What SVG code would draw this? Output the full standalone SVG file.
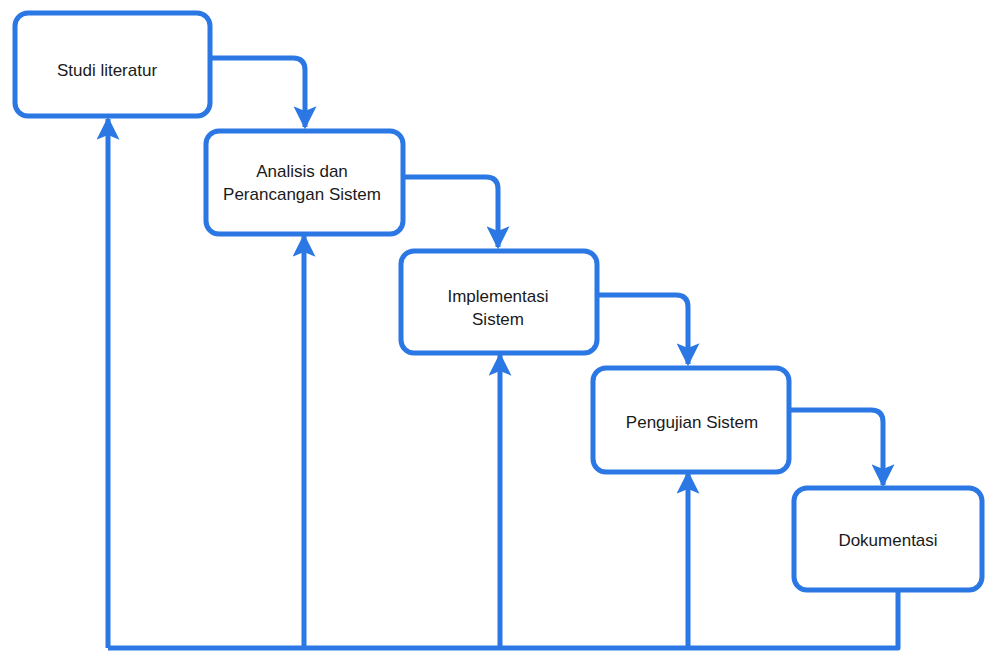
<svg xmlns="http://www.w3.org/2000/svg" width="986" height="652" viewBox="0 0 986 652">
<style>
.box{fill:#ffffff;stroke:#2b78e4;stroke-width:5}
.c{fill:none;stroke:#2b78e4;stroke-width:5;stroke-linejoin:round}
.t{font-family:"Liberation Sans",Arial,sans-serif;font-size:17px;fill:#1a1a1a;text-anchor:middle}
</style>
<defs>
<marker id="ah" viewBox="0 0 20 20" refX="18" refY="10" markerWidth="4.6" markerHeight="4.6" orient="auto" markerUnits="strokeWidth">
<path d="M0,0 L20,10 L0,20 L4,10 Z" fill="#2b78e4"/>
</marker>
</defs>
<g id="connectors">
<path class="c" d="M210,58 H293 Q305,58 305,70 V127" marker-end="url(#ah)"/>
<path class="c" d="M403,177 H486 Q498,177 498,189 V247" marker-end="url(#ah)"/>
<path class="c" d="M597,295 H676 Q688,295 688,307 V364" marker-end="url(#ah)"/>
<path class="c" d="M789,410 H871 Q883,410 883,422 V485" marker-end="url(#ah)"/>
<path class="c" d="M898,590 V648 H108"/>
<path class="c" d="M108,648 V119" marker-end="url(#ah)"/>
<path class="c" d="M304,648 V236" marker-end="url(#ah)"/>
<path class="c" d="M500,648 V355" marker-end="url(#ah)"/>
<path class="c" d="M688,648 V473" marker-end="url(#ah)"/>
</g>
<g id="n1">
<rect class="box" x="15" y="13" width="195" height="103" rx="13"/>
<text class="t" x="107" y="76">Studi literatur</text>
</g>
<g id="n2">
<rect class="box" x="206" y="131" width="197" height="103" rx="13"/>
<text class="t" x="302" y="177">Analisis dan</text>
<text class="t" x="302" y="200">Perancangan Sistem</text>
</g>
<g id="n3">
<rect class="box" x="401" y="251" width="196" height="102" rx="13"/>
<text class="t" x="498" y="302">Implementasi</text>
<text class="t" x="498" y="325">Sistem</text>
</g>
<g id="n4">
<rect class="box" x="593" y="368" width="196" height="104" rx="13"/>
<text class="t" x="692" y="428">Pengujian Sistem</text>
</g>
<g id="n5">
<rect class="box" x="794" y="488" width="188" height="102" rx="13"/>
<text class="t" x="888" y="546">Dokumentasi</text>
</g>
</svg>
